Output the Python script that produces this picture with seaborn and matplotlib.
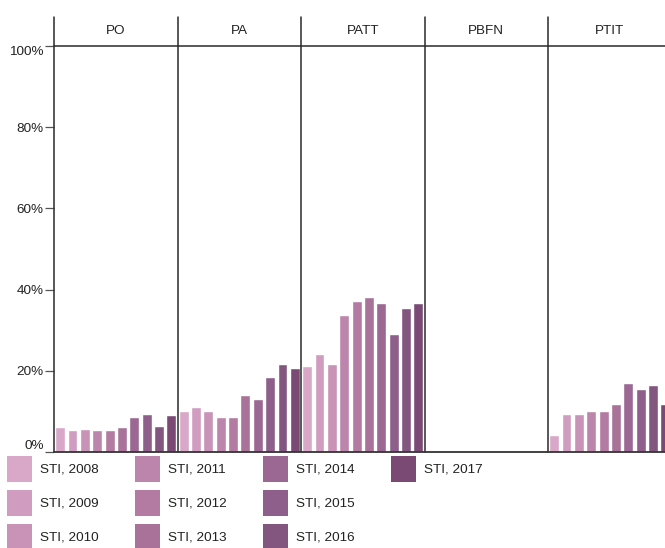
import numpy as np
import pandas as pd
import matplotlib
matplotlib.use("Agg")
import matplotlib.pyplot as plt
from matplotlib.patches import Patch
import seaborn as sns

panels = ["PO", "PA", "PATT", "PBFN", "PTIT"]
years = [2008, 2009, 2010, 2011, 2012, 2013, 2014, 2015, 2016, 2017]
po = [6.1, 5.3, 5.6, 5.3, 5.3, 6.1, 8.5, 9.3, 6.4, 9.0]
pa = [10.2, 11.1, 10.0, 8.5, 8.5, 14.0, 13.1, 18.4, 21.7, 20.7]
patt = [21.3, 24.2, 21.7, 33.7, 37.1, 38.3, 36.6, 29.0, 35.4, 36.6]
pbfn = [np.nan] * 10
ptit = [4.2, 9.4, 9.4, 10.0, 10.0, 11.8, 17.0, 15.6, 16.5, 11.8]
colors = ["#D9A7C8", "#D09CBF", "#C993B8", "#BC85AB", "#B47BA2",
          "#A97399", "#9B6893", "#8E5F8A", "#835680", "#7A4A75"]
yticks = [0, 0.2, 0.4, 0.6, 0.8, 1.0]
ytick_labels = ["0%", "20%", "40%", "60%", "80%", "100%"]

series = {"PO": po, "PA": pa, "PATT": patt, "PBFN": pbfn, "PTIT": ptit}
rows = []
for p in panels:
    for y, v in zip(years, series[p]):
        rows.append({"panel": p, "year": f"STI, {y}", "value": v / 100.0})
df = pd.DataFrame(rows)
hue_order = [f"STI, {y}" for y in years]

sns.set_style("white")
plt.rcParams["font.family"] = ["Liberation Sans", "DejaVu Sans"]

W, H = 665, 548
fig = plt.figure(figsize=(W / 100, H / 100), dpi=100)
left_px, right_px, top_px, bot_px = 54, 54 + 5 * 123.5, 46, 452
ax = fig.add_axes([left_px / W, (H - bot_px) / H,
                   (right_px - left_px) / W, (bot_px - top_px) / H])

sns.barplot(data=df, x="panel", y="value", hue="year", order=panels,
            hue_order=hue_order, palette=colors, width=1.0, gap=0.2,
            saturation=1, ax=ax, legend=False, errorbar=None)

ax.set_xlim(-0.5, 4.5)
ax.set_ylim(0, 1)
ax.set_xlabel("")
ax.set_ylabel("")
ax.set_xticks([])
for s in ax.spines.values():
    s.set_visible(False)

line_col = "#2a2a2a"
ext = (bot_px - 17) / (bot_px - top_px)
for xv in [-0.5, 0.5, 1.5, 2.5, 3.5]:
    ax.plot([xv, xv], [0, ext], color=line_col, lw=1.1, clip_on=False, zorder=5)
ax.plot([-0.5, 4.5], [1, 1], color=line_col, lw=1.1, clip_on=False, zorder=5)
ax.plot([-0.5, 4.5], [0, 0], color="#333333", lw=1.3, clip_on=False, zorder=5)

for i, p in enumerate(panels):
    ax.text(i, (bot_px - 31) / (bot_px - top_px), p, ha="center", va="center",
            fontsize=9.7, color="#222222")

ax.set_yticks(yticks)
ax.set_yticklabels(ytick_labels)
ax.tick_params(axis="y", left=True, length=6.5, width=0.9, color="#555555",
               pad=1, labelsize=9.7, labelcolor="#222222")
labs = ax.get_yticklabels()
labs[0].set_verticalalignment("bottom")
labs[-1].set_verticalalignment("top")

handles = [Patch(facecolor=c, edgecolor="none") for c in colors]
labels = list(hue_order)
# two invisible placeholders so the last column holds a single entry
handles += [Patch(facecolor="none", edgecolor="none")] * 2
labels += ["", ""]
fig.legend(handles, labels, ncol=4, loc="upper left",
           bbox_to_anchor=(7 / W, (H - 456) / H), frameon=False,
           borderpad=0, borderaxespad=0, fontsize=9.7,
           handlelength=1.88, handleheight=2.55, handletextpad=0.6,
           columnspacing=2.65, labelspacing=0.62, labelcolor="#222222")

fig.savefig("out.png", dpi=100)
